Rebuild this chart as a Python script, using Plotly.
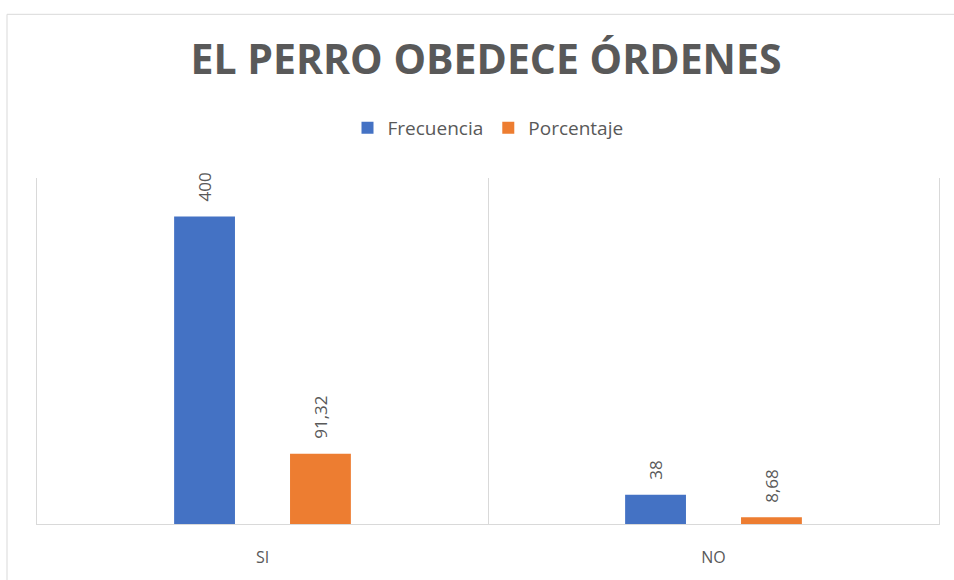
import plotly.graph_objects as go

categories = ["SI", "NO"]
frecuencia = [400, 38]
porcentaje = [91.32, 8.68]
series_names = ["Frecuencia", "Porcentaje"]
colors = ["#4472C4", "#ED7D31"]

W, H = 954, 580
ml, mr, mt, mb = 37, 15, 178, 49
bargap = 0.486
bargroupgap = 0.475

def fmt(v):
    s = ("%.2f" % v).rstrip("0").rstrip(".")
    return s.replace(".", ",")

fig = go.Figure()
for name, vals, col in zip(series_names, [frecuencia, porcentaje], colors):
    fig.add_trace(go.Bar(x=categories, y=vals, name=name, marker_color=col,
                         marker_line_width=0))

slot = (1 - bargap) / 2
annotations = []
for k, vals in enumerate([frecuencia, porcentaje]):
    off = (k - 0.5) * slot
    for i, v in enumerate(vals):
        annotations.append(dict(x=i + off, y=v, xref="x", yref="y", text=fmt(v),
                                showarrow=False, textangle=-90, yanchor="bottom",
                                xanchor="center", yshift=13,
                                font=dict(family="Open Sans", size=17, color="#595959")))

plot_h = H - mt - mb
plot_w = W - ml - mr
fig.update_layout(
    width=W, height=H,
    margin=dict(l=ml, r=mr, t=mt, b=mb),
    paper_bgcolor="white", plot_bgcolor="white",
    barmode="group", bargap=bargap, bargroupgap=bargroupgap,
    separators=",.",
    title=dict(text="<b>EL PERRO OBEDECE ÓRDENES</b>", x=486 / W, xref="container",
               xanchor="center", y=1 - 60 / H, yanchor="middle",
               font=dict(family="Open Sans", size=41, color="#595959")),
    legend=dict(orientation="h", x=0.5, xanchor="center", y=(H - mb - 127) / plot_h,
                yanchor="middle", font=dict(family="Open Sans", size=19, color="#595959"),
                itemclick=False, itemwidth=30),
    xaxis=dict(showgrid=True, gridcolor="#D9D9D9", gridwidth=1, tickson="boundaries",
               ticks="", showline=True, linecolor="#D9D9D9", linewidth=1,
               ticklabelstandoff=19,
               tickfont=dict(family="Open Sans", size=16, color="#595959"),
               zeroline=False, fixedrange=True),
    yaxis=dict(range=[0, 450], showticklabels=False, ticks="", showgrid=False,
               zeroline=False, showline=True, mirror=True, linecolor="#D9D9D9",
               linewidth=1),
    annotations=annotations,
    shapes=[dict(type="rect", xref="paper", yref="paper",
                 x0=(7 - ml) / plot_w, x1=(W + 10 - ml) / plot_w,
                 y0=-(mb + 10) / plot_h, y1=(H - mb - 11) / plot_h,
                 line=dict(color="#D9D9D9", width=1), fillcolor="rgba(0,0,0,0)",
                 layer="below")],
)

fig.write_html("out.html", config={"displayModeBar": False},
               post_script="document.body.style.margin='0';document.body.style.padding='0';")
